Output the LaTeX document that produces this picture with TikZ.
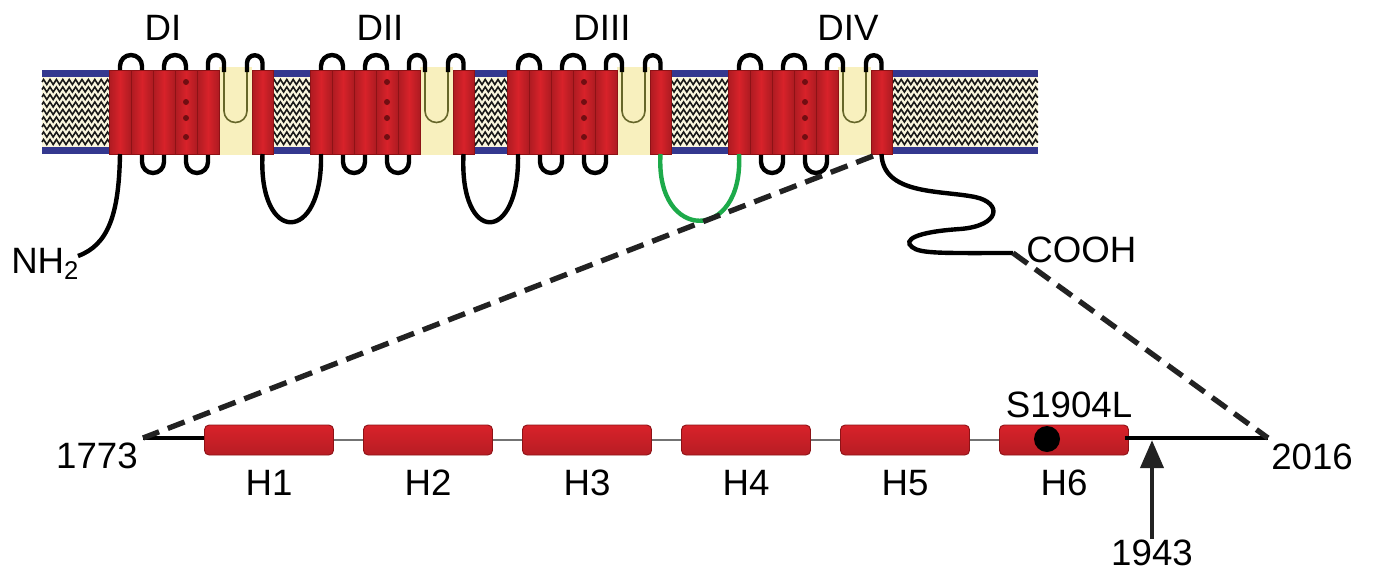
\documentclass[tikz,border=0pt]{standalone}
\usepackage{fontspec}
\setmainfont{Liberation Sans}
\usetikzlibrary{arrows.meta,decorations.pathmorphing}
\definecolor{lipid}{HTML}{FAF6DE}
\definecolor{gapcream}{HTML}{F8F0BE}
\definecolor{headblue}{HTML}{34388F}
\definecolor{tmred}{HTML}{D8222A}
\definecolor{tmdark}{HTML}{8E1216}
\definecolor{loopgreen}{HTML}{1DAA4A}
\definecolor{poreolive}{HTML}{66662A}
\definecolor{ink}{HTML}{222222}

\begin{document}
\begin{tikzpicture}[x=0.75pt,y=-0.75pt,
  lbl/.style={font=\fontsize{27.5}{32}\selectfont, inner sep=0pt},
  loopline/.style={line width=3.3pt, black},
  poreline/.style={line width=1.2pt, poreolive},
  zz/.style={line width=1.2pt, black!90, decorate,
    decoration={zigzag, segment length=4.8pt, amplitude=1.9pt}},
  tmseg/.style={draw=tmdark, line width=0.7pt,
    left color=tmred!80!black, right color=tmred!80!black, middle color=tmred},
  helixbox/.style={draw=tmdark, line width=0.7pt, rounded corners=3.5pt,
    top color=tmred, bottom color=tmred!85!black,
    minimum width=96.75pt, minimum height=22.5pt, inner sep=0pt},
  thickline/.style={line width=3.2pt, black},
  thinline/.style={line width=1.6pt, black!55},
  zoomdash/.style={line width=4pt, ink, dash pattern=on 13.5pt off 7pt},
]
\useasboundingbox (0,0) rectangle (1374,572);

% ---- lipid bilayer ----
\fill[lipid] (42,70) rectangle (1038,154);
\foreach \y in {82,89.5,...,144}
  \draw[zz] (42,\y) -- (1038,\y);
\fill[headblue] (42,70) rectangle (1038,77);
\fill[headblue] (42,147) rectangle (1038,154);

% ---- four homologous domains ----
\foreach \d in {109,310,507,728}{
  \begin{scope}[shift={(\d,0)}]
    % pore region
    \fill[gapcream] (110,67) rectangle (143,155);
    % extracellular loops
    \draw[loopline] (11,80) -- (11,66) arc[start angle=180,end angle=360,radius=11] -- (33,80);
    \draw[loopline] (55,80) -- (55,66) arc[start angle=180,end angle=360,radius=11] -- (77,80);
    \draw[loopline] (99,80) -- (99,63) arc[start angle=180,end angle=360,radius=8] -- (115,72);
    \draw[poreline] (115,72) -- (115,111) arc[start angle=180,end angle=0,radius=11.5] -- (138,72);
    \draw[loopline] (138,72) -- (138,63) arc[start angle=180,end angle=360,radius=7.75] -- (153.5,80);
    % intracellular loops
    \draw[loopline] (33,145) -- (33,162) arc[start angle=180,end angle=0,radius=11] -- (55,145);
    \draw[loopline] (77,145) -- (77,162) arc[start angle=180,end angle=0,radius=11] -- (99,145);
    % S1-S6 segments
    \foreach \i in {0,...,4}
      \draw[tmseg] ({22*\i},70) rectangle ++(22,84);
    \draw[tmseg] (143,70) rectangle (164,154);
    % charged S4
    \foreach \y in {82,102,118,137}
      \fill[tmdark!80!black] (77,\y) circle[radius=3];
  \end{scope}
}

% ---- domain labels ----
\node[lbl, anchor=base] (dI)   at (163,40) {DI};
\node[lbl, anchor=base] (dII)  at (380,40) {DII};
\node[lbl, anchor=base] (dIII) at (602,40) {DIII};
\node[lbl, anchor=base] (dIV)  at (848,40) {DIV};

% ---- linkers and termini ----
\coordinate (d1s1) at (120,154);
\coordinate (d1s6) at (262.5,154);
\coordinate (d2s1) at (321,154);
\coordinate (d2s6) at (463.5,154);
\coordinate (d3s1) at (518,154);
\coordinate (d3s6) at (660.5,154);
\coordinate (d4s1) at (739,154);
\coordinate (d4s6) at (881.5,154);
\coordinate (d4s6c) at (873,156);

\draw[loopline] (d1s6) .. controls (258,245) and (323,245) .. (d2s1);
\draw[loopline] (d2s6) .. controls (459,245) and (520,245) .. (d3s1);
\draw[loopline, loopgreen] (d3s6) .. controls (655,243) and (744,243) .. (d4s1);

\node[lbl, anchor=base west] (nterm) at (11,273) {NH\textsubscript{2}};
\coordinate (ntail) at (78,256);
\draw[loopline] (d1s1) .. controls (119,215) and (108,245) .. (ntail);

\node[lbl, anchor=base west] (cterm) at (1026,262) {COOH};
\coordinate (ctail) at (1013,253);
\draw[loopline] (d4s6) .. controls (883,195) and (940,190) .. (975,197)
  .. controls (1003,203) and (1000,226) .. (960,229)
  .. controls (915,232) and (903,240) .. (912,247)
  .. controls (920,254) and (945,253) .. (ctail);

% ---- C-terminal domain ----
\coordinate (c1773) at (143,438);
\coordinate (c2016) at (1268,438);
\node[helixbox] (h1) at (269,440) {};
\node[helixbox] (h2) at (428,440) {};
\node[helixbox] (h3) at (587,440) {};
\node[helixbox] (h4) at (746,440) {};
\node[helixbox] (h5) at (905,440) {};
\node[helixbox] (h6) at (1064,440) {};

\draw[thickline] (c1773) -- (h1.west |- c1773);
\draw[thinline] (h1.east) -- (h2.west);
\draw[thinline] (h2.east) -- (h3.west);
\draw[thinline] (h3.east) -- (h4.west);
\draw[thinline] (h4.east) -- (h5.west);
\draw[thinline] (h5.east) -- (h6.west);
\draw[thickline] ([xshift=-3pt]h6.east |- c2016) -- (c2016);

\node[circle, fill=black, minimum size=19.5pt, inner sep=0pt] (s1904) at (1047,439) {};

\foreach \k/\x in {1/269,2/428,3/587,4/746,5/905,6/1064}
  \node[lbl, anchor=base] (lh\k) at (\x,495) {H\k};

\node[lbl, anchor=base east] (n1773) at (138,468) {1773};
\node[lbl, anchor=base west] (n2016) at (1271,469) {2016};
\node[lbl, anchor=base] (n1904) at (1069,417) {S1904L};
\node[lbl, anchor=base] (n1943) at (1152,565) {1943};

\coordinate (tip1943) at (1152,440);
\draw[line width=3.6pt, ink, -{Triangle[length=21pt,width=17pt]}] (n1943.north) -- (tip1943);

% ---- zoom lines ----
\draw[zoomdash] (d4s6c) -- (c1773);
\draw[zoomdash] (ctail) -- (c2016);
\end{tikzpicture}
\end{document}
